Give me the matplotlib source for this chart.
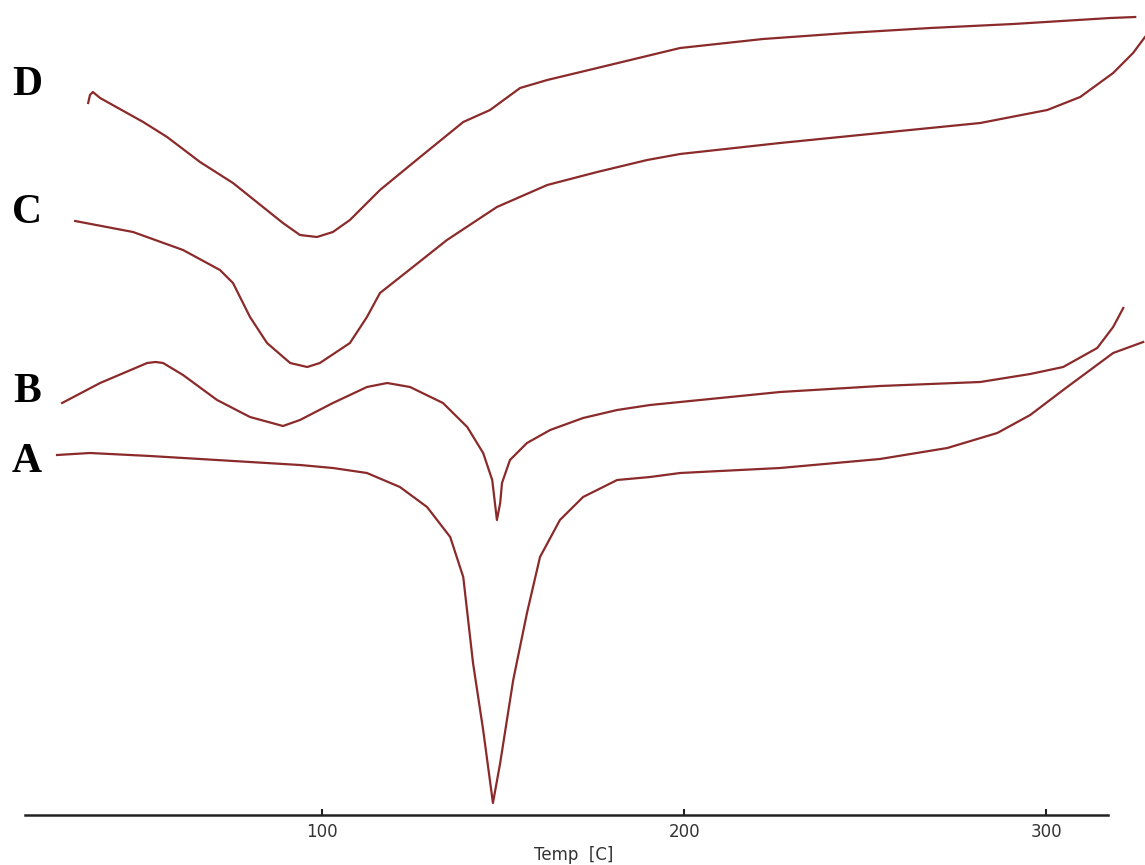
import matplotlib
matplotlib.use("Agg")
import matplotlib.pyplot as plt

# DSC traces, temperature in C, heat flow in arbitrary units (curves offset)
temp_a = [26.8, 35.9, 52.5, 80.1, 93.9, 103.0, 112.4, 121.5, 129.0, 135.4, 139.0, 141.7,
          144.5, 147.2, 149.2, 152.8, 156.6, 160.2, 165.7, 172.1, 181.5, 190.6, 198.9,
          226.5, 254.1, 272.7, 286.5, 295.6, 304.7, 318.5, 326.8]
flow_a = [3.60, 3.62, 3.59, 3.53, 3.50, 3.47, 3.42, 3.28, 3.08, 2.78, 2.38, 1.52,
          0.85, 0.12, 0.52, 1.35, 2.02, 2.58, 2.95, 3.18, 3.35, 3.38, 3.42,
          3.47, 3.56, 3.67, 3.82, 4.00, 4.25, 4.62, 4.73]

temp_b = [28.2, 38.7, 51.7, 54.0, 56.1, 61.6, 71.0, 80.1, 89.2, 93.9, 103.0, 112.4,
          118.0, 124.3, 133.4, 140.1, 144.5, 147.0, 148.3, 149.2, 149.7, 151.9, 156.6,
          163.0, 172.1, 181.5, 190.6, 198.9, 226.5, 254.1, 281.8, 295.6, 304.7, 314.1,
          318.5, 321.3]
flow_b = [4.12, 4.32, 4.52, 4.53, 4.52, 4.40, 4.15, 3.98, 3.89, 3.95, 4.12, 4.28,
          4.32, 4.28, 4.12, 3.88, 3.62, 3.35, 2.95, 3.12, 3.32, 3.55, 3.72,
          3.85, 3.97, 4.05, 4.10, 4.13, 4.23, 4.29, 4.33, 4.41, 4.48, 4.67,
          4.88, 5.07]

temp_c = [31.8, 47.8, 61.6, 71.8, 75.4, 80.1, 84.8, 91.2, 95.9, 99.4, 107.7, 112.4,
          116.0, 125.1, 134.5, 148.3, 162.2, 176.0, 189.8, 198.9, 226.5, 254.1, 281.8,
          300.3, 309.4, 318.5, 324.0, 327.3]
flow_c = [5.94, 5.83, 5.65, 5.45, 5.32, 4.98, 4.72, 4.52, 4.48, 4.52, 4.72, 4.98,
          5.22, 5.48, 5.75, 6.08, 6.30, 6.43, 6.55, 6.61, 6.72, 6.82, 6.92,
          7.05, 7.18, 7.42, 7.62, 7.78]

temp_d = [35.4, 35.9, 36.7, 38.7, 50.6, 57.2, 66.3, 75.4, 89.2, 93.9, 98.6, 103.0,
          107.7, 116.0, 127.1, 139.0, 146.4, 154.7, 162.2, 176.0, 198.9, 221.8, 245.0,
          268.0, 290.9, 317.7, 324.6]
flow_d = [7.12, 7.20, 7.23, 7.17, 6.93, 6.78, 6.53, 6.32, 5.92, 5.80, 5.78, 5.83,
          5.95, 6.25, 6.58, 6.93, 7.05, 7.27, 7.35, 7.47, 7.67, 7.76, 7.82,
          7.87, 7.91, 7.97, 7.98]

labels = ["A", "B", "C", "D"]
label_y = [3.53, 4.23, 6.02, 7.30]
ticks = [100, 200, 300]

color = "#8b2a2a"

fig = plt.figure(figsize=(11.45, 8.65), dpi=100)
ax = fig.add_axes([0, 0, 1, 1])

for t, f in [(temp_a, flow_a), (temp_b, flow_b), (temp_c, flow_c), (temp_d, flow_d)]:
    ax.plot(t, f, color=color, lw=1.6, solid_joinstyle="round")

for lab, y in zip(labels, label_y):
    ax.text(18.5, y, lab, fontsize=30, fontweight="bold", family="Liberation Serif",
            ha="center", va="center", color="black")

ax.set_xlim(11.05, 327.3)
ax.set_ylim(-0.5, 8.15)

for s in ["top", "left", "right"]:
    ax.spines[s].set_visible(False)
ax.spines["bottom"].set_position(("data", 0))
ax.spines["bottom"].set_bounds(18, 317)
ax.spines["bottom"].set_linewidth(1.8)
ax.spines["bottom"].set_color("#222222")
ax.set_yticks([])
ax.set_xticks(ticks)
ax.set_xticklabels([str(v) for v in ticks])
ax.tick_params(axis="x", direction="in", length=4, width=1.5, pad=6,
               labelsize=12, labelcolor="#333333", color="#222222")

ax.text(169.6, -0.40, "Temp  [C]", fontsize=12, ha="center", va="center", color="#333333")

fig.savefig("out.png", dpi=100)
